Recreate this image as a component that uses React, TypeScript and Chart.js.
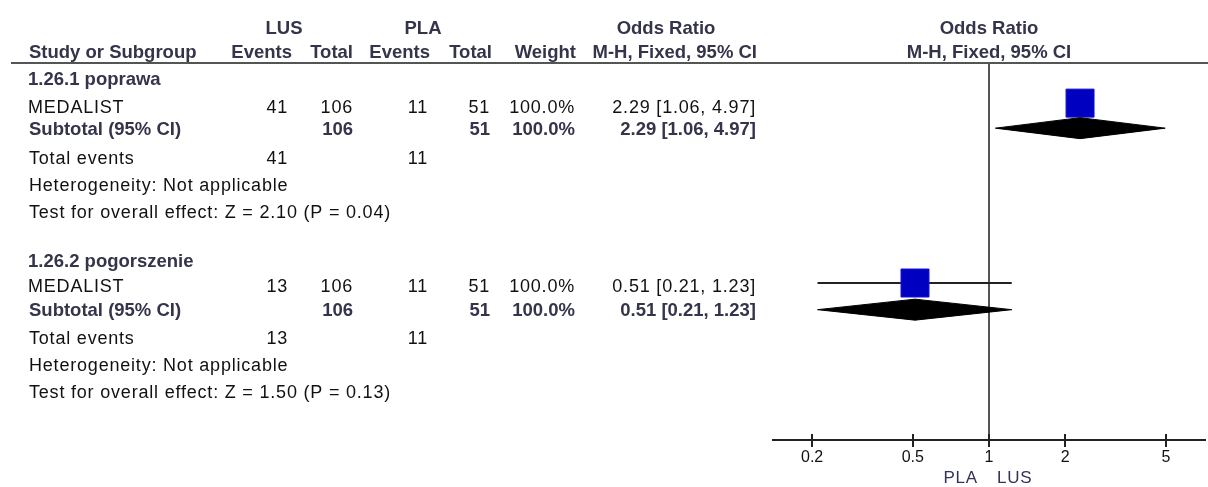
import { useEffect, useRef } from "react";
import { Chart, registerables } from "chart.js";

Chart.register(...registerables);

// Subgroups, each holding one study
const subgroupTitles = ["1.26.1 poprawa", "1.26.2 pogorszenie"];
const studyNames = ["MEDALIST", "MEDALIST"];
const lusEvents = [41, 13];
const lusTotals = [106, 106];
const plaEvents = [11, 11];
const plaTotals = [51, 51];
const weights = [100.0, 100.0];
const oddsRatios = [2.29, 0.51];
const ciLower = [1.06, 0.21];
const ciUpper = [4.97, 1.23];
const zValues = [2.1, 1.5];
const pValues = [0.04, 0.13];
const axisTicks = [0.2, 0.5, 1, 2, 5];

// Layout: rows are in "line" units of the hidden y scale
const FONT = '"Liberation Sans", Arial, sans-serif';
const ROWS = {
  head1: -1.34,
  head2: -0.43,
  group: [0.58, 7.32],
  study: [1.49, 8.17],
  subtotal: [2.42, 9.16],
  total: [3.51, 10.21],
  het: [4.53, 11.21],
  test: [5.52, 12.2],
};
const STUDY_TEXT_DROP = 3; // px, study text sits slightly below its marker
const COL = { name: 29, lusEv: 288, lusTot: 353, plaEv: 428, plaTot: 490, weight: 575, ci: 756 };
const HEAD_COL = { lusEv: 292, lusTot: 353, plaEv: 430, plaTot: 492, weight: 576, ci: 757 };
const DIAMOND_HALF = 0.39;
const WHISKER_ROWS = [1];
const BOLD_COLOR = "#34344a";
const TEXT_COLOR = "#111";

const fmt2 = (v: number) => v.toFixed(2);
const ciText = (i: number) => `${fmt2(oddsRatios[i])} [${fmt2(ciLower[i])}, ${fmt2(ciUpper[i])}]`;

function drawText(
  ctx: CanvasRenderingContext2D,
  text: string,
  x: number,
  yPx: number,
  align: CanvasTextAlign,
  bold: boolean,
  size: number,
  color: string
) {
  ctx.font = `${bold ? "bold " : ""}${size}px ${FONT}`;
  (ctx as any).letterSpacing = bold ? "0px" : "0.8px";
  ctx.textAlign = align;
  ctx.textBaseline = "alphabetic";
  ctx.fillStyle = color;
  ctx.fillText(text, x, yPx + size * 0.358);
}

const forestTable = {
  id: "forestTable",
  afterDraw(chart: any) {
    const { ctx, chartArea, scales } = chart;
    const x = scales.x;
    const y = scales.y;
    const py = (v: number) => y.getPixelForValue(v);
    const x1 = x.getPixelForValue(1);
    ctx.save();

    // header rule
    ctx.strokeStyle = "#555";
    ctx.lineWidth = 2;
    ctx.beginPath();
    ctx.moveTo(11, chartArea.top);
    ctx.lineTo(chart.width, chartArea.top);
    ctx.stroke();

    // tick marks crossing the axis
    ctx.strokeStyle = "#222";
    ctx.lineWidth = 2;
    axisTicks.forEach((v) => {
      const px = Math.round(x.getPixelForValue(v));
      ctx.beginPath();
      ctx.moveTo(px, chartArea.bottom - 6);
      ctx.lineTo(px, chartArea.bottom + 7);
      ctx.stroke();
    });

    // column headers
    const B = 18.5;
    const R = 18;
    const h1 = py(ROWS.head1);
    const h2 = py(ROWS.head2);
    drawText(ctx, "LUS", 284, h1, "center", true, B, BOLD_COLOR);
    drawText(ctx, "PLA", 423, h1, "center", true, B, BOLD_COLOR);
    drawText(ctx, "Odds Ratio", 666, h1, "center", true, B, BOLD_COLOR);
    drawText(ctx, "Odds Ratio", x1, h1, "center", true, B, BOLD_COLOR);
    drawText(ctx, "Study or Subgroup", COL.name, h2, "left", true, B, BOLD_COLOR);
    drawText(ctx, "Events", HEAD_COL.lusEv, h2, "right", true, B, BOLD_COLOR);
    drawText(ctx, "Total", HEAD_COL.lusTot, h2, "right", true, B, BOLD_COLOR);
    drawText(ctx, "Events", HEAD_COL.plaEv, h2, "right", true, B, BOLD_COLOR);
    drawText(ctx, "Total", HEAD_COL.plaTot, h2, "right", true, B, BOLD_COLOR);
    drawText(ctx, "Weight", HEAD_COL.weight, h2, "right", true, B, BOLD_COLOR);
    drawText(ctx, "M-H, Fixed, 95% CI", HEAD_COL.ci, h2, "right", true, B, BOLD_COLOR);
    drawText(ctx, "M-H, Fixed, 95% CI", x1, h2, "center", true, B, BOLD_COLOR);

    subgroupTitles.forEach((title, i) => {
      drawText(ctx, title, COL.name - 1, py(ROWS.group[i]), "left", true, B, BOLD_COLOR);

      const sy = py(ROWS.study[i]) + STUDY_TEXT_DROP;
      drawText(ctx, studyNames[i], COL.name - 1, sy, "left", false, R, TEXT_COLOR);
      drawText(ctx, String(lusEvents[i]), COL.lusEv, sy, "right", false, R, TEXT_COLOR);
      drawText(ctx, String(lusTotals[i]), COL.lusTot, sy, "right", false, R, TEXT_COLOR);
      drawText(ctx, String(plaEvents[i]), COL.plaEv, sy, "right", false, R, TEXT_COLOR);
      drawText(ctx, String(plaTotals[i]), COL.plaTot, sy, "right", false, R, TEXT_COLOR);
      drawText(ctx, `${weights[i].toFixed(1)}%`, COL.weight, sy, "right", false, R, TEXT_COLOR);
      drawText(ctx, ciText(i), COL.ci, sy, "right", false, R, TEXT_COLOR);

      const ty = py(ROWS.subtotal[i]);
      drawText(ctx, "Subtotal (95% CI)", COL.name, ty, "left", true, B, BOLD_COLOR);
      drawText(ctx, String(lusTotals[i]), COL.lusTot, ty, "right", true, B, BOLD_COLOR);
      drawText(ctx, String(plaTotals[i]), COL.plaTot, ty, "right", true, B, BOLD_COLOR);
      drawText(ctx, `${weights[i].toFixed(1)}%`, COL.weight, ty, "right", true, B, BOLD_COLOR);
      drawText(ctx, ciText(i), COL.ci, ty, "right", true, B, BOLD_COLOR);

      const ey = py(ROWS.total[i]);
      drawText(ctx, "Total events", COL.name, ey, "left", false, R, TEXT_COLOR);
      drawText(ctx, String(lusEvents[i]), COL.lusEv, ey, "right", false, R, TEXT_COLOR);
      drawText(ctx, String(plaEvents[i]), COL.plaEv, ey, "right", false, R, TEXT_COLOR);

      drawText(ctx, "Heterogeneity: Not applicable", COL.name, py(ROWS.het[i]), "left", false, R, TEXT_COLOR);
      drawText(
        ctx,
        `Test for overall effect: Z = ${zValues[i].toFixed(2)} (P = ${pValues[i].toFixed(2)})`,
        COL.name,
        py(ROWS.test[i]),
        "left",
        false,
        R,
        TEXT_COLOR
      );
    });

    // favours labels under the axis
    drawText(ctx, "PLA", x1 - 11, 477, "right", false, 17, "#333355");
    drawText(ctx, "LUS", x1 + 8, 477, "left", false, 17, "#333355");

    ctx.restore();
  },
};

function buildDatasets() {
  const diamonds = subgroupTitles.map((_, i) => {
    const yc = ROWS.subtotal[i];
    return {
      type: "line" as const,
      data: [
        { x: ciLower[i], y: yc },
        { x: oddsRatios[i], y: yc - DIAMOND_HALF },
        { x: ciUpper[i], y: yc },
        { x: oddsRatios[i], y: yc + DIAMOND_HALF },
        { x: ciLower[i], y: yc },
      ],
      borderColor: "#000",
      backgroundColor: "#000",
      borderWidth: 1,
      pointRadius: 0,
      tension: 0,
      fill: "shape",
      order: 0,
    };
  });
  const squares = {
    type: "scatter" as const,
    data: oddsRatios.map((v, i) => ({ x: v, y: ROWS.study[i] })),
    pointStyle: "rect",
    pointRadius: 19.8,
    backgroundColor: "#0000c0",
    borderColor: "#1515d8",
    borderWidth: 1,
    order: 1,
  };
  const whiskers = WHISKER_ROWS.map((i) => ({
    type: "line" as const,
    data: [
      { x: ciLower[i], y: ROWS.study[i] },
      { x: ciUpper[i], y: ROWS.study[i] },
    ],
    borderColor: "#222",
    borderWidth: 2,
    pointRadius: 0,
    fill: false,
    order: 2,
  }));
  const noEffect = {
    type: "line" as const,
    data: [
      { x: 1, y: 0 },
      { x: 1, y: 14 },
    ],
    borderColor: "#555",
    borderWidth: 2,
    pointRadius: 0,
    fill: false,
    order: 3,
  };
  return [...diamonds, squares, ...whiskers, noEffect];
}

export default function App() {
  const ref = useRef<HTMLCanvasElement>(null);

  useEffect(() => {
    document.body.style.margin = "0";
    const chart = new Chart(ref.current as HTMLCanvasElement, {
      type: "scatter",
      data: { datasets: buildDatasets() as any },
      options: {
        responsive: false,
        animation: false,
        devicePixelRatio: 1,
        layout: { autoPadding: false, padding: { left: 773, right: 3, top: 63, bottom: 0 } },
        plugins: { legend: { display: false }, tooltip: { enabled: false } },
        scales: {
          x: {
            type: "logarithmic",
            min: 1 / 7.14,
            max: 7.14,
            afterBuildTicks: (scale: any) => {
              scale.ticks = axisTicks.map((v) => ({ value: v }));
            },
            afterFit: (scale: any) => {
              // axis band below the plot: fixed height, no label overflow padding
              scale.paddingLeft = 0;
              scale.paddingRight = 0;
              scale.height = 47;
            },
            ticks: {
              callback: (v: any) => String(v),
              autoSkip: false,
              maxRotation: 0,
              padding: 8,
              color: "#111",
              font: { family: FONT, size: 16 },
            },
            grid: { display: false, drawTicks: false },
            border: { display: true, color: "#222", width: 2 },
          },
          y: { type: "linear", reverse: true, min: 0, max: 14, display: false },
        },
      },
      plugins: [forestTable],
    });
    return () => chart.destroy();
  }, []);

  return (
    <div style={{ position: "fixed", left: 0, top: 0, width: 1208, height: 487, background: "#fff" }}>
      <canvas ref={ref} width={1208} height={487} style={{ display: "block", width: 1208, height: 487 }} />
    </div>
  );
}
